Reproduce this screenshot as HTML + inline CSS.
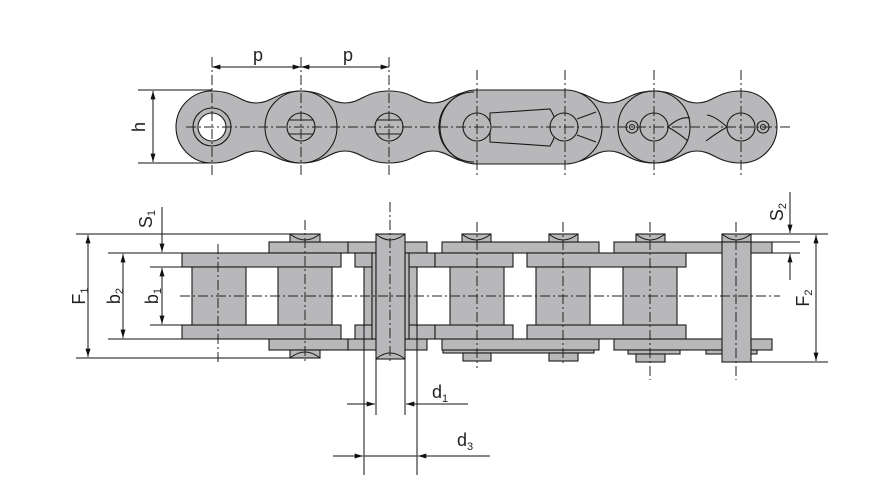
<!DOCTYPE html>
<html><head><meta charset="utf-8"><style>
html,body{margin:0;padding:0;background:#fff}
svg{display:block}
text{font-family:"Liberation Sans","DejaVu Sans",sans-serif;fill:#222}
</style></head><body>
<svg width="891" height="491" viewBox="0 0 891 491" xmlns="http://www.w3.org/2000/svg">
<defs>
<marker id="a" viewBox="0 0 10 6" refX="10" refY="3" markerWidth="12" markerHeight="5" orient="auto-start-reverse" markerUnits="userSpaceOnUse"><path d="M0,0L10,3L0,6z" fill="#111"/></marker>
</defs>
<g fill="#b8b8ba" stroke="#1a1a1a" stroke-width="1.1">
<path d="M176,127 A36,36 0 0 1 212,91 C236,91 240,103 256,103 C272,103 277,91 301,91 C325,91 329,103 345,103 C361,103 365,91 389,91 C413,91 417,103 433,103 C449,103 453,91 477,91 L565,91 C589,91 593,103 609,103 C625,103 630,91 654,91 C678,91 681,103 697,103 C713,103 717,91 741,91 A36,36 0 0 1 741,163 C717,163 713,151 697,151 C681,151 678,163 654,163 C630,163 625,151 609,151 C593,151 589,163 565,163 L477,163 C453,163 449,151 433,151 C417,151 413,163 389,163 C365,163 361,151 345,151 C329,151 325,163 301,163 C277,163 272,151 256,151 C240,151 236,163 212,163 A36,36 0 0 1 176,127Z"/>
<circle cx="301" cy="127" r="36" fill="none"/>
<circle cx="654" cy="127" r="36" fill="none"/>
<path d="M477,90 L565,90 A37,37 0 0 1 565,164 L477,164 A37,37 0 0 1 477,90Z"/>
<path d="M474,92 A35,35 0 0 0 474,162" fill="none"/>
<path d="M490,113 L550,109 Q562,127 550,146 L490,142 Z"/>
<circle cx="477" cy="127" r="14"/>
<circle cx="564" cy="127" r="14"/>
<path d="M577,119 L596,112 M577,135 L596,142" fill="none"/>
<circle cx="212" cy="127" r="19"/>
<circle cx="212" cy="127" r="14" fill="#fff"/>
<circle cx="301" cy="127" r="14"/><path d="M289,120h24M289,134h24" fill="none"/>
<circle cx="389" cy="127" r="14"/><path d="M377,120h24M377,134h24" fill="none"/>
<circle cx="654" cy="127" r="14"/>
<circle cx="741" cy="127" r="14"/>
<circle cx="632" cy="127" r="6"/><circle cx="632" cy="127" r="2.5" fill="none"/>
<circle cx="763" cy="127" r="6"/><circle cx="763" cy="127" r="2.5" fill="none"/>
<path d="M668,127 Q680,116 690,118 M668,127 Q680,134 688,141" fill="none"/>
<path d="M727,127 Q715,116 707,115 M727,127 Q715,134 706,141" fill="none"/>

<rect x="269" y="242" width="79" height="11"/><rect x="348" y="242" width="79" height="11"/>
<rect x="269" y="339" width="79" height="11"/><rect x="348" y="339" width="79" height="11"/>
<rect x="442" y="242" width="157" height="11"/><rect x="614" y="242" width="158" height="11"/>
<rect x="443" y="350" width="151" height="3"/>
<rect x="442" y="339" width="157" height="11"/><rect x="614" y="339" width="158" height="11"/>
<rect x="628" y="350" width="52" height="4"/><rect x="706" y="350" width="51" height="4"/>
<rect x="290" y="234" width="30" height="8"/><rect x="290" y="350" width="30" height="8"/>
<rect x="462" y="234" width="29" height="8"/><rect x="549" y="234" width="29" height="8"/>
<rect x="636" y="234" width="29" height="8"/><rect x="722" y="234" width="29" height="8"/>
<rect x="463" y="353" width="28" height="8"/><rect x="549" y="353" width="29" height="8"/>
<rect x="636" y="354" width="29" height="8"/>
<rect x="182" y="253" width="159" height="14"/><rect x="182" y="325" width="159" height="14"/>
<rect x="355" y="253" width="17" height="14"/><rect x="355" y="325" width="17" height="14"/>
<rect x="409" y="253" width="26" height="14"/><rect x="409" y="325" width="26" height="14"/>
<rect x="435" y="253" width="78" height="14"/><rect x="435" y="325" width="78" height="14"/>
<rect x="527" y="253" width="159" height="14"/><rect x="527" y="325" width="159" height="14"/>
<rect x="364" y="267" width="8" height="58"/><rect x="409" y="267" width="8" height="58"/>
<rect x="372" y="253" width="4" height="86"/><rect x="405" y="253" width="4" height="86"/>
<rect x="192" y="267" width="54" height="58"/><rect x="278" y="267" width="54" height="58"/>
<rect x="450" y="267" width="54" height="58"/><rect x="536" y="267" width="54" height="58"/>
<rect x="623" y="267" width="54" height="58"/>
<rect x="376" y="234" width="29" height="125"/>
<rect x="722" y="242" width="29" height="120"/>
</g>
<g fill="none" stroke="#1a1a1a" stroke-width="1">
<path d="M290,234 Q305,246 320,234 M290,358 Q305,346 320,358 M376,234 Q390,246 405,234 M376,359 Q390,347 405,359 M462,234 Q476,246 491,234 M549,234 Q563,246 578,234 M636,234 Q650,246 665,234 M722,234 Q736,246 751,234"/>
</g>
<g stroke="#222" stroke-width="1" stroke-dasharray="10 3 2 3" fill="none">
<path d="M186,127H790"/>
<path d="M212,57V175M301,57V175M389,57V175M477,70V175M565,70V175M654,70V175M741,70V175"/>
<path d="M180,296H780"/>
<path d="M218,244V362M305,220V362M390,202V362M477,222V368M563,222V366M650,222V380M736,222V380"/>
</g>
<g stroke="#111" stroke-width="1" fill="none">
<path d="M212,67H301" marker-start="url(#a)" marker-end="url(#a)"/>
<path d="M301,67H389" marker-start="url(#a)" marker-end="url(#a)"/>
<path d="M138,90H212M138,163H212"/>
<path d="M153,91V162" marker-start="url(#a)" marker-end="url(#a)"/>
<path d="M76,234H290M108,253H182M150,267H192M150,325H192M108,339H182M76,358H290"/>
<path d="M88,235V357" marker-start="url(#a)" marker-end="url(#a)"/>
<path d="M123,254V338" marker-start="url(#a)" marker-end="url(#a)"/>
<path d="M162,207V252" marker-end="url(#a)"/>
<path d="M162,268V324" marker-start="url(#a)" marker-end="url(#a)"/>
<path d="M751,234H828M772,242H800M772,253H800M751,362H828"/>
<path d="M790,192V233" marker-end="url(#a)"/>
<path d="M790,280V254" marker-end="url(#a)"/>
<path d="M816,235V361" marker-start="url(#a)" marker-end="url(#a)"/>
<path d="M376,359V415M405,359V415M364,300V475M417,300V475"/>
<path d="M347,404H375" marker-end="url(#a)"/>
<path d="M468,404H406" marker-end="url(#a)"/>
<path d="M333,456H363" marker-end="url(#a)"/>
<path d="M490,456H418" marker-end="url(#a)"/>
<path d="M364,456H417"/>
</g>
<g font-size="18">
<text x="253" y="61">p</text>
<text x="343" y="61">p</text>
<text x="139" y="133" transform="rotate(-90 139 127)" text-anchor="middle">h</text>
<text x="432" y="398">d<tspan font-size="11" dy="4">1</tspan></text>
<text x="457" y="446">d<tspan font-size="11" dy="4">3</tspan></text>
<g transform="translate(79,296) rotate(-90)"><text x="0" y="6" text-anchor="middle">F<tspan font-size="11" dy="3">1</tspan></text></g>
<g transform="translate(114,296) rotate(-90)"><text x="0" y="6" text-anchor="middle">b<tspan font-size="11" dy="3">2</tspan></text></g>
<g transform="translate(152,296) rotate(-90)"><text x="0" y="6" text-anchor="middle">b<tspan font-size="11" dy="3">1</tspan></text></g>
<g transform="translate(146,219) rotate(-90)"><text x="0" y="6" text-anchor="middle">S<tspan font-size="11" dy="3">1</tspan></text></g>
<g transform="translate(777,212) rotate(-90)"><text x="0" y="6" text-anchor="middle">S<tspan font-size="11" dy="3">2</tspan></text></g>
<g transform="translate(803,298) rotate(-90)"><text x="0" y="6" text-anchor="middle">F<tspan font-size="11" dy="3">2</tspan></text></g>
</g>
</svg>
</body></html>
